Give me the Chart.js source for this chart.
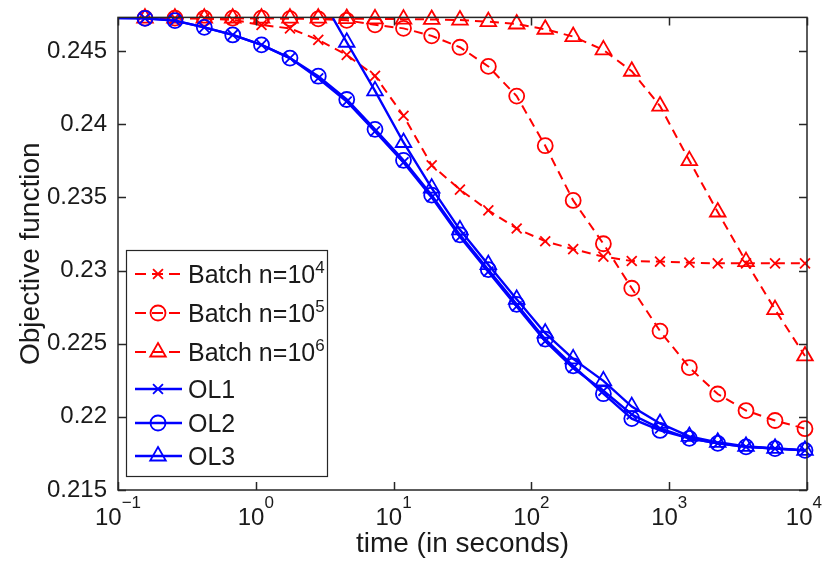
<!DOCTYPE html>
<html>
<head>
<meta charset="utf-8">
<script src="https://cdn.jsdelivr.net/npm/chart.js@4.4.1/dist/chart.umd.min.js"></script>
<style>
  html, body { margin: 0; padding: 0; background: #fff; }
  #wrap { width: 823px; height: 561px; }
</style>
</head>
<body>
<div id="wrap"><canvas id="chart" width="823" height="561"></canvas></div>
<script>
// ===== Data =====
const gridTimes = [0.157, 0.259, 0.423, 0.68, 1.1, 1.77, 2.84, 4.57, 7.33, 11.8, 18.9, 30.3,
  48.7, 78.2, 126, 201, 333, 535, 858, 1400, 2250, 3610, 5860, 9670];

const batch1e4 = [0.24725, 0.24725, 0.24723, 0.24713, 0.24678, 0.24655, 0.24576, 0.24474,
  0.24330, 0.24058, 0.23719, 0.23553, 0.23411, 0.23287, 0.23200, 0.23146, 0.23095, 0.23065,
  0.23061, 0.23054, 0.23049, 0.23049, 0.23049, 0.23049];

const batch1e5 = [0.24725, 0.24725, 0.24725, 0.24725, 0.24725, 0.24722, 0.24720, 0.24710,
  0.24679, 0.24655, 0.24604, 0.24526, 0.24395, 0.24192, 0.23853, 0.23479, 0.23183, 0.22879,
  0.22586, 0.22337, 0.22156, 0.22043, 0.21975, 0.21919];

const batch1e6 = [0.24725, 0.24725, 0.24725, 0.24725, 0.24725, 0.24725, 0.24725, 0.24722,
  0.24720, 0.24718, 0.24716, 0.24712, 0.24701, 0.24685, 0.24649, 0.24599, 0.24508, 0.24362,
  0.24124, 0.23751, 0.23400, 0.23061, 0.22733, 0.22416];

// online runs start from the initial objective
const olStartTime = 0.1;
const olStartValue = 0.24725;

const ol1 = [0.24723, 0.24708, 0.24662, 0.24610, 0.24542, 0.24452, 0.24314, 0.24155,
  0.23951, 0.23739, 0.23501, 0.23230, 0.22992, 0.22755, 0.22517, 0.22334, 0.22178, 0.22016,
  0.21921, 0.21853, 0.21819, 0.21795, 0.21783, 0.21771];

const ol2 = [0.24723, 0.24708, 0.24662, 0.24610, 0.24542, 0.24452, 0.24328, 0.24169,
  0.23965, 0.23753, 0.23515, 0.23244, 0.23006, 0.22769, 0.22531, 0.22348, 0.22158, 0.21988,
  0.21907, 0.21853, 0.21819, 0.21795, 0.21783, 0.21771];

// OL3 only starts after ~3.6 s
const ol3Times = [3.63, 4.57, 7.33, 11.8, 18.9, 30.3, 48.7, 78.2, 126, 201, 333, 535, 858,
  1400, 2250, 3610, 5860, 9670];
const ol3 = [0.24725, 0.24560, 0.24228, 0.23875, 0.23563, 0.23278, 0.23040, 0.22803,
  0.22572, 0.22396, 0.22246, 0.22070, 0.21955, 0.21866, 0.21826, 0.21798, 0.21785, 0.21771];

const xTickValues = [0.1, 1, 10, 100, 1000, 10000];
const xTickExponents = ['\u22121', '0', '1', '2', '3', '4'];
const yTickValues = [0.215, 0.22, 0.225, 0.23, 0.235, 0.24, 0.245];

const legendItems = [
  { text: 'Batch n=10', sup: '4', color: '#ff0000', style: 'crossRot', dashed: true },
  { text: 'Batch n=10', sup: '5', color: '#ff0000', style: 'circle', dashed: true },
  { text: 'Batch n=10', sup: '6', color: '#ff0000', style: 'triangle', dashed: true },
  { text: 'OL1', sup: '', color: '#0000ff', style: 'crossRot', dashed: false },
  { text: 'OL2', sup: '', color: '#0000ff', style: 'circle', dashed: false },
  { text: 'OL3', sup: '', color: '#0000ff', style: 'triangle', dashed: false }
];

const FONT = "'Liberation Sans', Arial, Helvetica, sans-serif";
const TEXT = '#1a1a1a';
const RED = '#ff0000';
const BLUE = '#0000ff';
const markerSize = { crossRot: 7, circle: 7.5, triangle: 9 };

function series(label, times, values, color, style, dashed, hideFirst) {
  return {
    label,
    data: times.map((t, i) => ({ x: t, y: values[i] })),
    borderColor: color,
    borderWidth: dashed ? 2 : 2.4,
    borderDash: dashed ? [9, 6] : [],
    pointStyle: style,
    pointRadius: ctx => (hideFirst && ctx.dataIndex === 0 ? 0 : markerSize[style]),
    pointHoverRadius: markerSize[style],
    pointBorderColor: color,
    pointBackgroundColor: 'rgba(0,0,0,0)',
    pointBorderWidth: 1.8,
    tension: 0,
    clip: false,
    // blue curves sit on top of the red ones
    order: dashed ? 1 : 0
  };
}

// ===== Axes box, inward ticks, x labels with exponents, legend =====
const matlabAxes = {
  id: 'matlabAxes',
  afterDraw(chart) {
    const { ctx, chartArea: a } = chart;
    const xs = chart.scales.x;
    const ys = chart.scales.y;
    ctx.save();

    ctx.strokeStyle = '#262626';
    ctx.lineWidth = 1.5;
    ctx.setLineDash([]);
    ctx.strokeRect(a.left, a.top, a.right - a.left, a.bottom - a.top);

    ctx.beginPath();
    xTickValues.forEach(v => {
      const px = Math.round(xs.getPixelForValue(v)) + 0.5;
      ctx.moveTo(px, a.bottom); ctx.lineTo(px, a.bottom - 8);
      ctx.moveTo(px, a.top); ctx.lineTo(px, a.top + 8);
    });
    yTickValues.forEach(v => {
      const py = Math.round(ys.getPixelForValue(v)) + 0.5;
      ctx.moveTo(a.left, py); ctx.lineTo(a.left + 8, py);
      ctx.moveTo(a.right, py); ctx.lineTo(a.right - 8, py);
    });
    ctx.stroke();

    // x tick labels: 10 with raised exponent
    ctx.fillStyle = TEXT;
    ctx.textBaseline = 'alphabetic';
    ctx.textAlign = 'left';
    xTickValues.forEach((v, i) => {
      const px = xs.getPixelForValue(v);
      ctx.font = `24px ${FONT}`;
      const wb = ctx.measureText('10').width;
      ctx.font = `17px ${FONT}`;
      const we = ctx.measureText(xTickExponents[i]).width;
      const start = Math.min(px - (wb + we) / 2, 822 - wb - we);
      ctx.font = `24px ${FONT}`;
      ctx.fillText('10', start, 525);
      ctx.font = `17px ${FONT}`;
      ctx.fillText(xTickExponents[i], start + wb, 508);
    });

    // legend
    const box = { left: 126, top: 250, right: 327, bottom: 476 };
    ctx.fillStyle = '#fff';
    ctx.fillRect(box.left, box.top, box.right - box.left, box.bottom - box.top);
    ctx.strokeStyle = '#262626';
    ctx.lineWidth = 1.2;
    ctx.strokeRect(box.left + 0.5, box.top + 0.5, box.right - box.left, box.bottom - box.top);

    const baselines = [283, 322, 361, 398, 432, 465];
    legendItems.forEach((item, i) => {
      const yb = baselines[i];
      const yl = yb - 9;
      ctx.strokeStyle = item.color;
      ctx.lineWidth = item.dashed ? 2 : 2.4;
      ctx.setLineDash(item.dashed ? [11, 6] : []);
      ctx.beginPath();
      ctx.moveTo(135, yl);
      ctx.lineTo(item.dashed ? 180 : 182, yl);
      ctx.stroke();
      ctx.setLineDash([]);
      ctx.fillStyle = 'rgba(0,0,0,0)';
      ctx.lineWidth = 1.8;
      Chart.helpers.drawPoint(ctx, {
        pointStyle: item.style,
        radius: markerSize[item.style],
        rotation: 0,
        borderWidth: 1.8
      }, 158, yl);

      ctx.fillStyle = TEXT;
      ctx.font = `25px ${FONT}`;
      ctx.fillText(item.text, 188, yb);
      if (item.sup) {
        const w = ctx.measureText(item.text).width;
        ctx.font = `17px ${FONT}`;
        ctx.fillText(item.sup, 188 + w, yb - 10);
      }
    });

    ctx.restore();
  }
};

new Chart(document.getElementById('chart'), {
  type: 'line',
  data: {
    datasets: [
      series('Batch n=10^4', gridTimes, batch1e4, RED, 'crossRot', true, false),
      series('Batch n=10^5', gridTimes, batch1e5, RED, 'circle', true, false),
      series('Batch n=10^6', gridTimes, batch1e6, RED, 'triangle', true, false),
      series('OL1', [olStartTime, ...gridTimes], [olStartValue, ...ol1], BLUE, 'crossRot', false, true),
      series('OL2', [olStartTime, ...gridTimes], [olStartValue, ...ol2], BLUE, 'circle', false, true),
      series('OL3', ol3Times, ol3, BLUE, 'triangle', false, true)
    ]
  },
  options: {
    responsive: false,
    animation: false,
    layout: {
      autoPadding: false,
      padding: { top: 14, right: 16, bottom: 0, left: 0 }
    },
    plugins: {
      legend: { display: false },
      tooltip: { enabled: false }
    },
    scales: {
      x: {
        type: 'logarithmic',
        min: 0.1,
        max: 10000,
        grid: { display: false },
        border: { display: false },
        ticks: { display: false },
        title: {
          display: true,
          text: 'time (in seconds)',
          color: TEXT,
          font: { family: FONT, size: 28 },
          padding: { top: 1, bottom: 0 }
        },
        afterFit: s => { s.height = 71; }
      },
      y: {
        type: 'linear',
        min: 0.215,
        max: 0.2473,
        grid: { display: false },
        border: { display: false },
        ticks: {
          stepSize: 0.005,
          includeBounds: false,
          padding: 3,
          color: TEXT,
          font: { family: FONT, size: 24 },
          callback: v => String(+v.toFixed(3))
        },
        title: {
          display: true,
          text: 'Objective function',
          color: TEXT,
          font: { family: FONT, size: 28 },
          padding: { top: 14, bottom: 0 }
        },
        afterFit: s => { s.width = 118; }
      }
    }
  },
  plugins: [matlabAxes]
});
</script>
</body>
</html>
